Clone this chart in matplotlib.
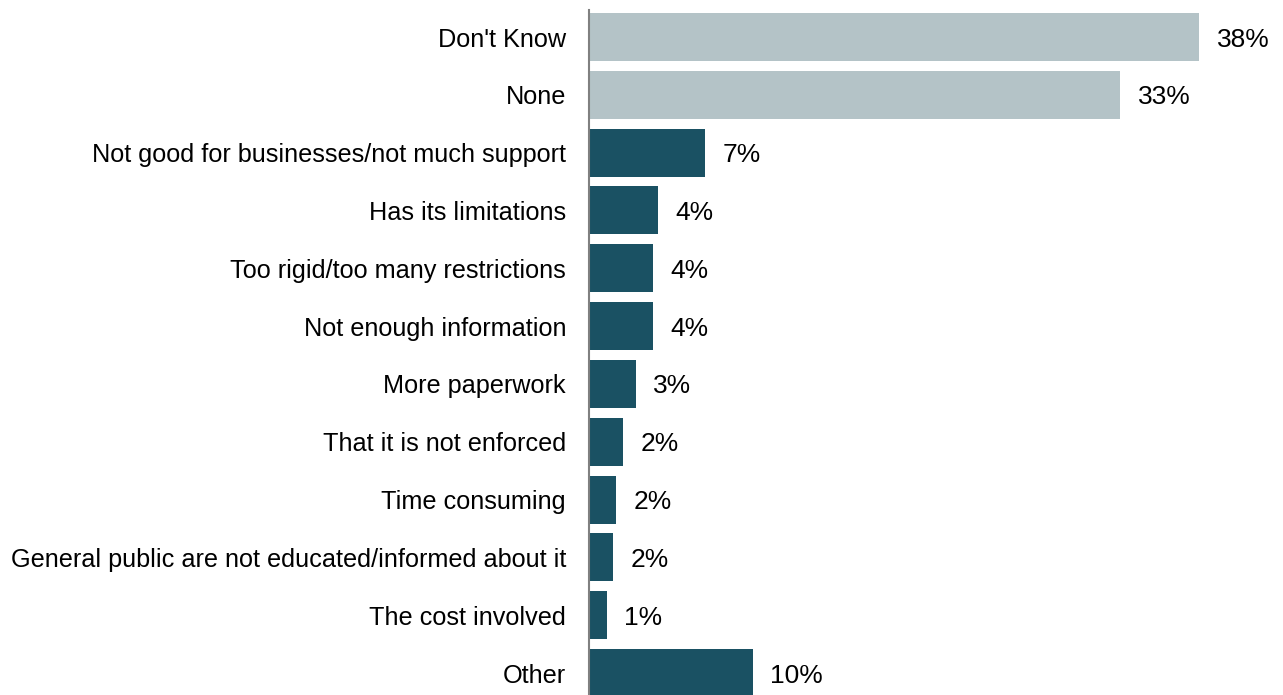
import numpy as np
import matplotlib.pyplot as plt

plt.rcParams['font.family'] = ['Liberation Sans', 'DejaVu Sans']

categories = ["Don't Know", "None", "Not good for businesses/not much support",
              "Has its limitations", "Too rigid/too many restrictions",
              "Not enough information", "More paperwork", "That it is not enforced",
              "Time consuming", "General public are not educated/informed about it",
              "The cost involved", "Other"]
values = [38.0, 33.1, 7.2, 4.3, 4.0, 4.0, 2.9, 2.1, 1.7, 1.5, 1.1, 10.2]
labels = ["38%", "33%", "7%", "4%", "4%", "4%", "3%", "2%", "2%", "2%", "1%", "10%"]

gray = '#b4c3c7'
teal = '#1a5163'
colors = [gray, gray] + [teal] * 10

fig = plt.figure(figsize=(12.83, 6.95), dpi=100)
ax = fig.add_axes([589 / 1283, 0, 1 - 589 / 1283, 685 / 695])

y = np.arange(len(categories))
ax.barh(y, values, height=0.83, color=colors)
for yi, v, lab in zip(y, values, labels):
    ax.text(v + 1.1, yi, lab, va='center_baseline', ha='left', fontsize=19, color='black')

ax.set_xlim(0, 694 / 16.05)
ax.set_ylim(11.38, -0.467)
ax.set_yticks(y)
ax.set_yticklabels(categories, fontsize=18.2)
ax.tick_params(axis='y', length=0, pad=16.5)
ax.set_xticks([])
for s in ['top', 'right', 'bottom']:
    ax.spines[s].set_visible(False)
ax.spines['left'].set_color('#808080')
ax.spines['left'].set_linewidth(1.5)

fig.savefig('out.png', dpi=100)
